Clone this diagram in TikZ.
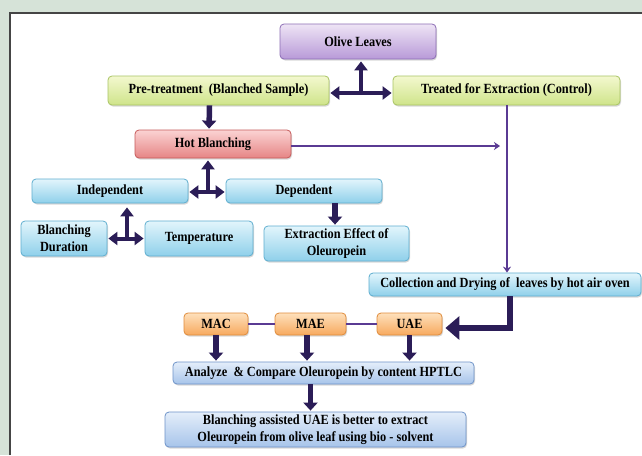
\documentclass[tikz,border=0pt]{standalone}
\usepackage{fontspec}
\setmainfont{Liberation Serif}[FakeStretch=0.88]
\usetikzlibrary{arrows.meta,shadows}
\definecolor{bgc}{HTML}{D6E3D8}
\definecolor{framec}{HTML}{454545}
\definecolor{arrc}{HTML}{2B1D57}
\definecolor{linec}{HTML}{5A3A93}
\definecolor{gtop}{HTML}{F3F8CF}\definecolor{gbot}{HTML}{CFE48A}\definecolor{gbrd}{HTML}{A9C464}
\definecolor{ptop}{HTML}{EEE4F5}\definecolor{pbot}{HTML}{B89AD8}\definecolor{pbrd}{HTML}{8C6DB5}
\definecolor{rtop}{HTML}{FBD3D3}\definecolor{rbot}{HTML}{E68585}\definecolor{rbrd}{HTML}{C65A5A}
\definecolor{otop}{HTML}{FEE0BC}\definecolor{obot}{HTML}{F7A95E}\definecolor{obrd}{HTML}{E08C3C}
\definecolor{ctop}{HTML}{E2F5FC}\definecolor{cbot}{HTML}{8FD0EA}\definecolor{cbrd}{HTML}{5FAECF}
\definecolor{btop}{HTML}{E4EEFA}\definecolor{bbot}{HTML}{A7C4EA}\definecolor{bbrd}{HTML}{6E93C9}
\tikzset{
  box/.style={rounded corners=4pt, draw, line width=0.8pt, align=center, inner sep=0pt,
    font=\bfseries\fontsize{14}{17}\selectfont,
    drop shadow={opacity=0.3, shadow xshift=1pt, shadow yshift=-1.5pt}},
  greenbox/.style={box, draw=gbrd, top color=gtop, bottom color=gbot},
  purplebox/.style={box, draw=pbrd, top color=ptop, bottom color=pbot},
  redbox/.style={box, draw=rbrd, top color=rtop, bottom color=rbot},
  orangebox/.style={box, draw=obrd, top color=otop, bottom color=obot},
  cyanbox/.style={box, draw=cbrd, top color=ctop, bottom color=cbot},
  bluebox/.style={box, draw=bbrd, top color=btop, bottom color=bbot},
  blk/.style={draw=arrc, line width=5.5pt, -{Triangle[width=14pt,length=8pt]}, shorten >=1pt},
  tarr/.style={draw=arrc, line width=4pt, -{Triangle[width=13pt,length=9pt]}},
  tdbl/.style={draw=arrc, line width=4pt, {Triangle[width=13pt,length=9pt]}-{Triangle[width=13pt,length=9pt]}, shorten <=1pt, shorten >=1pt},
  thinarr/.style={draw=linec, line width=1.8pt, -{Stealth[width=8pt,length=6pt]}},
  thinline/.style={draw=linec, line width=1.8pt},
  elbow/.style={draw=arrc, line width=5.5pt, -{Triangle[width=23pt,length=14pt]}, shorten >=3pt}
}
\begin{document}
\begin{tikzpicture}[x=1pt,y=-1pt]
\useasboundingbox (0,0) rectangle (642,455);
\fill[bgc] (0,0) rectangle (642,455);
\fill[white] (10,13) rectangle (642,455);
\draw[framec, line width=1.6pt] (10,455) -- (10,13) -- (642,13);

\node[purplebox, minimum width=156pt, minimum height=35pt] (olive) at (358,41.5) {Olive Leaves};
\node[greenbox, minimum width=221pt, minimum height=29pt] (pre) at (218.5,90.5) {Pre-treatment\ \ (Blanched Sample)};
\node[greenbox, minimum width=227pt, minimum height=29pt] (treat) at (506.5,90.5) {Treated for Extraction (Control)};
\node[redbox, minimum width=156pt, minimum height=28pt] (hot) at (213,144) {Hot Blanching};
\node[cyanbox, minimum width=156pt, minimum height=24pt] (indep) at (110,191) {Independent};
\node[cyanbox, minimum width=156pt, minimum height=24pt] (dep) at (304,191) {Dependent};
\node[cyanbox, minimum width=86pt, minimum height=35pt] (bdur) at (64,238.5) {Blanching\\Duration};
\node[cyanbox, minimum width=108pt, minimum height=35pt] (temp) at (199,238.5) {Temperature};
\node[cyanbox, minimum width=145pt, minimum height=35pt] (extr) at (336.5,243.5) {Extraction Effect of\\Oleuropein};
\node[cyanbox, minimum width=272pt, minimum height=23pt] (coll) at (505,284.5) {Collection and Drying of\ \ leaves by hot air oven};
\node[orangebox, minimum width=64pt, minimum height=22pt] (mac) at (216,324) {MAC};
\node[orangebox, minimum width=71pt, minimum height=22pt] (mae) at (310.5,324) {MAE};
\node[orangebox, minimum width=65pt, minimum height=22pt] (uae) at (409.5,324) {UAE};
\node[bluebox, minimum width=301pt, minimum height=22pt] (anal) at (323.5,373) {Analyze\ \ \& Compare Oleuropein by content HPTLC};
\node[bluebox, minimum width=301pt, minimum height=35pt] (blan) at (315.5,429.5) {Blanching assisted UAE is better to extract\\Oleuropein from olive leaf using bio - solvent};

% olive leaves T-arrow
\coordinate (oj) at (361,93);
\draw[tarr, shorten >=2pt] (oj) -- (oj |- olive.south);
\draw[tdbl] ([yshift=-2.5pt]pre.east) -- ([yshift=-2.5pt]treat.west);

% pre -> hot
\draw[blk] ([xshift=-9pt]pre.south) -- ([xshift=-4pt]hot.north);

% hot -> right
\coordinate (hotend) at (500,146);
\draw[thinarr] ([yshift=-2pt]hot.east) -- (hotend);
% treat -> coll
\draw[thinarr] ([xshift=0.5pt]treat.south) -- ([xshift=2pt]coll.north);

% hot T-arrow
\coordinate (hj) at (208,192);
\draw[tarr, shorten >=2pt] (hj) -- (hj |- hot.south);
\draw[tdbl] ([yshift=-1pt]indep.east) -- ([yshift=-1pt]dep.west);

% independent T-arrow
\coordinate (ij) at (127,238);
\draw[tarr, shorten >=4pt] (ij) -- (ij |- indep.south);
\draw[tdbl] (bdur.east) -- (temp.west);

% dep -> extraction
\draw[blk] ([xshift=31pt]dep.south) -- ([xshift=-1.5pt]extr.north);

% coll -> uae
\draw[elbow] ([xshift=5pt]coll.south) |- ([yshift=-4pt]uae.east);

% method links
\draw[thinline] (mac.east) -- (mae.west);
\draw[thinline] (mae.east) -- (uae.west);

% methods -> analyze
\draw[blk] (mac.south) -- (mac.south |- anal.north);
\draw[blk] ([xshift=-3.5pt]mae.south) -- ([xshift=-3.5pt]mae.south |- anal.north);
\draw[blk] (uae.south) -- (uae.south |- anal.north);

% analyze -> conclusion
\draw[blk] ([xshift=-13pt]anal.south) -- ([xshift=-13pt]anal.south |- blan.north);
\end{tikzpicture}
\end{document}
